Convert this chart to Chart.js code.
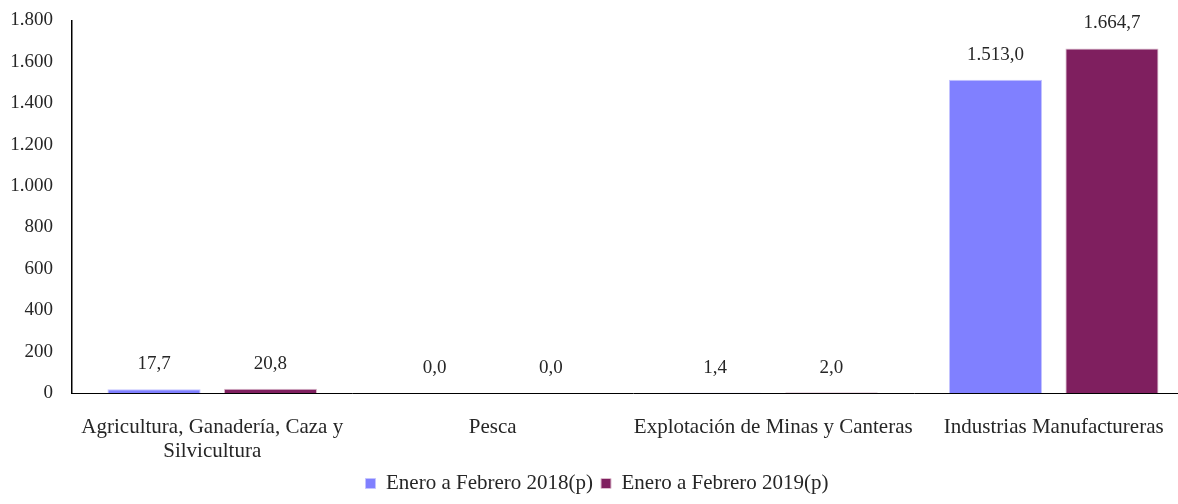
<!DOCTYPE html>
<html>
<head>
<meta charset="utf-8">
<script src="https://cdn.jsdelivr.net/npm/chart.js@4/dist/chart.umd.min.js"></script>
<style>
  html, body { margin: 0; padding: 0; background: #fff; overflow: hidden; }
  #wrap { position: absolute; left: 0; top: -10px; width: 1194px; height: 514px; }
</style>
</head>
<body>
<div id="wrap"><canvas id="chart"></canvas></div>
<script>
/* DATA */
const categories = [
  ["Agricultura, Ganadería, Caza y", "Silvicultura"],
  "Pesca",
  "Explotación de Minas y Canteras",
  "Industrias Manufactureras"
];
const seriesNames = ["Enero a Febrero 2018(p)", "Enero a Febrero 2019(p)"];
const values2018 = [17.7, 0.0, 1.4, 1513.0];
const values2019 = [20.8, 0.04, 2.0, 1664.7];
const yTicks = [0, 200, 400, 600, 800, 1000, 1200, 1400, 1600, 1800];

/* STYLE */
const FONT = "'Liberation Serif', 'DejaVu Serif', serif";
const TEXT = "#262626";
const BLUE = "#8080ff";
const PURPLE = "#7f1f5f";

/* HELPERS */
function groupThousands(s) {
  return s.replace(/\B(?=(\d{3})+(?!\d))/g, ".");
}
function fmtTick(v) {
  return groupThousands(String(Math.round(v)));
}
function fmtValue(v) {
  const [i, d] = v.toFixed(1).split(".");
  return groupThousands(i) + "," + d;
}

/* value labels above bars */
const valueLabels = {
  id: "valueLabels",
  afterDatasetsDraw(chart) {
    const ctx = chart.ctx;
    ctx.save();
    ctx.font = "19px " + FONT;
    ctx.fillStyle = TEXT;
    ctx.textAlign = "center";
    ctx.textBaseline = "middle";
    chart.data.datasets.forEach((ds, di) => {
      chart.getDatasetMeta(di).data.forEach((bar, i) => {
        ctx.fillText(fmtValue(ds.data[i]), bar.x, bar.y - 25);
      });
    });
    ctx.restore();
  }
};

new Chart(document.getElementById("chart"), {
  type: "bar",
  data: {
    labels: categories,
    datasets: [
      {
        label: seriesNames[0],
        data: values2018,
        backgroundColor: BLUE,
        borderColor: "#c4c4ff",
        borderWidth: 1,
        categoryPercentage: 0.83,
        barPercentage: 0.8
      },
      {
        label: seriesNames[1],
        data: values2019,
        backgroundColor: PURPLE,
        borderColor: "#dcbccd",
        borderWidth: 1,
        categoryPercentage: 0.83,
        barPercentage: 0.8
      }
    ]
  },
  options: {
    responsive: true,
    maintainAspectRatio: false,
    animation: false,
    layout: { padding: { top: 0, left: 0, right: 0, bottom: 0 } },
    plugins: {
      tooltip: { enabled: false },
      legend: {
        position: "bottom",
        labels: {
          font: { family: FONT, size: 21 },
          color: TEXT,
          boxWidth: 10,
          boxHeight: 10,
          padding: 8
        }
      }
    },
    scales: {
      x: {
        grid: { display: false, drawTicks: false },
        border: { display: true, color: "#000", width: 1 },
        ticks: {
          font: { family: FONT, size: 21, lineHeight: 1.15 },
          color: TEXT,
          padding: 22,
          maxRotation: 0,
          autoSkip: false
        },
        afterFit(scale) { scale.height = 72; }
      },
      y: {
        min: 0,
        max: 1800,
        grid: { display: false, drawTicks: false },
        border: { display: true, color: "#000", width: 1.5 },
        afterBuildTicks(scale) {
          scale.ticks = yTicks.map((v) => ({ value: v }));
        },
        ticks: {
          font: { family: FONT, size: 19 },
          color: TEXT,
          padding: 19,
          callback: (v) => fmtTick(v)
        },
        afterFit(scale) { scale.width = 72; }
      }
    }
  },
  plugins: [valueLabels]
});
</script>
</body>
</html>
